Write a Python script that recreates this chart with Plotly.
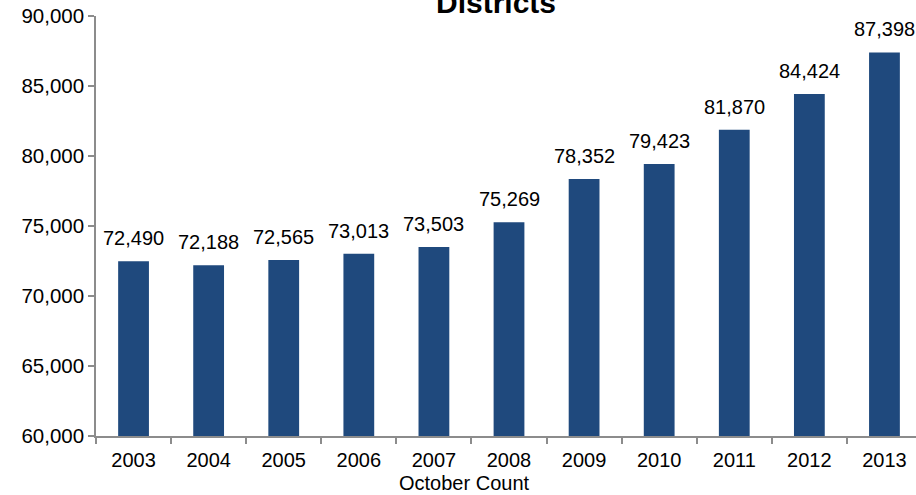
import plotly.graph_objects as go

years = ["2003", "2004", "2005", "2006", "2007", "2008", "2009", "2010", "2011", "2012", "2013"]
enrollment = [72490, 72188, 72565, 73013, 73503, 75269, 78352, 79423, 81870, 84424, 87398]
y_ticks = [60000, 65000, 70000, 75000, 80000, 85000, 90000]
title_text = "Districts"
x_title = "October Count"

FONT = "Liberation Sans, Arial, sans-serif"
BAR = "#1f497d"
AXIS = "#8c8c8c"

fig = go.Figure(
    go.Bar(
        x=years,
        y=enrollment,
        marker=dict(color=BAR, line=dict(width=0)),
        width=0.41,
        hoverinfo="x+y",
    )
)

# value labels floating above each bar (category axis -> position by index)
for i, v in enumerate(enrollment):
    fig.add_annotation(
        x=i,
        y=v,
        xref="x",
        yref="y",
        text=f"{v:,}",
        showarrow=False,
        xanchor="center",
        yanchor="middle",
        yshift=23,
        font=dict(family=FONT, size=20, color="#000000"),
    )

fig.update_layout(
    width=916,
    height=495,
    margin=dict(l=96, r=0, t=16, b=59),
    paper_bgcolor="white",
    plot_bgcolor="white",
    showlegend=False,
    font=dict(family=FONT, color="#000000"),
)

fig.update_xaxes(
    type="category",
    range=[-0.5, 10.42],
    showline=True,
    linecolor=AXIS,
    linewidth=1.5,
    ticks="outside",
    tickson="boundaries",
    ticklen=6,
    tickcolor=AXIS,
    tickwidth=1.5,
    tickfont=dict(family=FONT, size=20),
    ticklabelstandoff=5,
    showgrid=False,
)

fig.update_yaxes(
    range=[60000, 90000],
    tickvals=y_ticks,
    ticktext=[f"{v:,}" for v in y_ticks],
    showline=True,
    linecolor=AXIS,
    linewidth=1.5,
    ticks="outside",
    ticklen=6,
    tickcolor=AXIS,
    tickwidth=1.5,
    tickfont=dict(family=FONT, size=20.5),
    showgrid=False,
    zeroline=False,
)

# axis caption under the year labels
fig.add_annotation(
    text=x_title,
    xref="paper",
    yref="paper",
    x=(464 - 96) / 820,
    y=-(483 - 436) / 420,
    xanchor="center",
    yanchor="middle",
    showarrow=False,
    font=dict(family=FONT, size=20, color="#000000"),
)

# chart heading (runs off the top of the page)
fig.add_annotation(
    text=f"<b>{title_text}</b>",
    xref="paper",
    yref="paper",
    x=(496 - 96) / 820,
    y=1 + (16 - 21) / 420,
    xanchor="center",
    yanchor="bottom",
    showarrow=False,
    font=dict(family=FONT, size=30, color="#000000"),
)

fig.write_html("out.html")
